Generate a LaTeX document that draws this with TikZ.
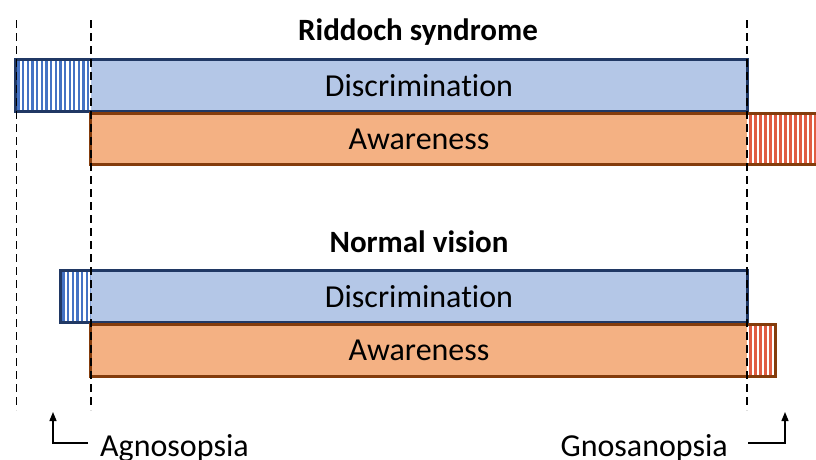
\documentclass[tikz,border=0pt]{standalone}
\usepackage{fontspec}
\setmainfont{Carlito}[Ligatures={NoCommon,NoRare}]
\usepackage{tikz}
\usetikzlibrary{positioning,arrows.meta,calc}
\definecolor{discfill}{RGB}{180,199,231}
\definecolor{discedge}{RGB}{32,56,100}
\definecolor{discstripe}{RGB}{68,114,196}
\definecolor{awarefill}{RGB}{244,177,131}
\definecolor{awareedge}{RGB}{132,60,12}
\definecolor{awarestripe}{RGB}{224,92,66}
\tikzset{
  bigtext/.style={font=\fontsize{32}{38}\selectfont},
  titletext/.style={font=\fontsize{31}{37}\selectfont\bfseries, inner sep=0pt, anchor=base},
  sidetext/.style={font=\fontsize{32}{38}\selectfont, inner sep=0pt},
  discbox/.style={fill=discfill, minimum width=656pt, minimum height=51pt, inner sep=0pt, bigtext},
  awarebox/.style={fill=awarefill, minimum width=656pt, minimum height=51pt, inner sep=0pt, bigtext},
  bluehatch/.style={fill=white, minimum height=51pt, inner sep=0pt, path picture={
    \foreach \k in {0,...,30}
      \draw[discstripe, line width=2.3pt] ([xshift=\k*4.65pt+2.4pt]path picture bounding box.south west) -- ([xshift=\k*4.65pt+2.4pt]path picture bounding box.north west);
  }},
  redhatch/.style={fill=white, minimum height=51pt, inner sep=0pt, path picture={
    \foreach \k in {0,...,30}
      \draw[awarestripe, line width=3pt] ([xshift=\k*5pt+3pt]path picture bounding box.south west) -- ([xshift=\k*5pt+3pt]path picture bounding box.north west);
  }},
  discline/.style={draw=discedge, line width=3pt},
  awareline/.style={draw=awareedge, line width=3pt},
  guide/.style={black, line width=1.8pt, dash pattern=on 8pt off 5pt},
  pointer/.style={-{Triangle[length=9pt, width=7pt]}, line width=1.3pt}
}

\begin{document}
\begin{tikzpicture}[x=1pt, y=-1pt, >=Latex]
  \useasboundingbox (0,0) rectangle (816,459);
  % Riddoch syndrome
  \node[titletext] (riddoch) at (418,40) {Riddoch syndrome};
  \node[discbox] (discA) at (419,85.5) {Discrimination};
  \node[bluehatch, minimum width=74.5pt, left=0pt of discA] (hatchA) {};
  \node[awarebox] (awareA) at (419,139) {Awareness};
  \node[redhatch, minimum width=83pt, right=0pt of awareA] (hatchB) {};
  \draw[discline] (hatchA.north west) rectangle (discA.south east);
  \draw[awareline] (awareA.north west) rectangle (hatchB.south east);
  % normal vision
  \node[titletext] (normal) at (419,252) {Normal vision};
  \node[discbox] (discB) at (419,296.5) {Discrimination};
  \node[bluehatch, minimum width=29.5pt, left=0pt of discB] (hatchC) {};
  \node[awarebox] (awareB) at (419,350.5) {Awareness};
  \node[redhatch, minimum width=27.5pt, right=0pt of awareB] (hatchD) {};
  \draw[discline] (hatchC.north west) rectangle (discB.south east);
  \draw[awareline] (awareB.north west) rectangle (hatchD.south east);
  % guides
  \draw[guide] (16.5,20) -- (16.5,410);
  \draw[guide] (91,20) -- (91,410);
  \draw[guide] (747,20) -- (747,410);
  % labels
  \node[sidetext, anchor=base west] (agno) at (100,456) {Agnosopsia};
  \node[sidetext, anchor=base east] (gnosa) at (728,456) {Gnosanopsia};
  \coordinate (agnotip) at (53,412);
  \coordinate (gnosatip) at (785,412);
  \draw[pointer] ($(agno.base west)+(-12,-13)$) -| (agnotip);
  \draw[pointer] ($(gnosa.base east)+(20,-13)$) -| (gnosatip);
\end{tikzpicture}
\end{document}
